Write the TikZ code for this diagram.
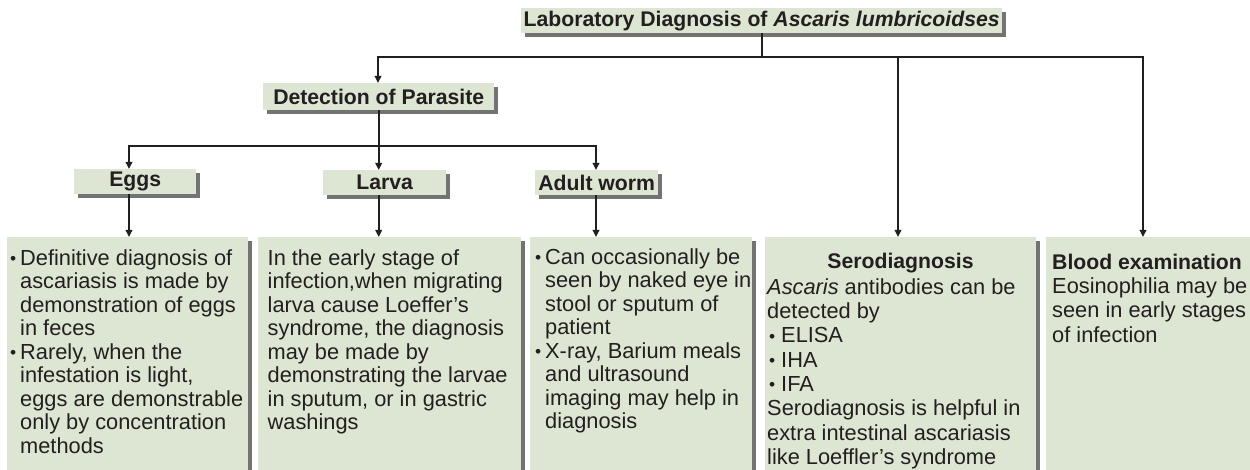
\documentclass[tikz,border=0pt]{standalone}
\usepackage{fontspec}
\usepackage{graphicx}
\setmainfont{Liberation Sans}
\usetikzlibrary{arrows.meta,shadows}
\definecolor{boxfill}{RGB}{221,229,211}
\definecolor{shade}{RGB}{115,115,115}
\definecolor{ink}{RGB}{35,31,32}
\newcommand\bu{\makebox[10.5pt][l]{\hspace{0.5pt}\raisebox{0.8pt}{\scalebox{0.8}{•}}}}
\newcommand\bus{\makebox[14pt][l]{\hspace{2pt}\raisebox{0.8pt}{\scalebox{0.8}{•}}}}
\newcommand\ii{\hspace*{10.5pt}}
\newcommand\fst{\rule{0pt}{16.5pt}}
\tikzset{
  conn/.style={draw=ink, line width=1.8pt},
  arr/.style={conn, -{Triangle[length=7pt,width=6.5pt]}},
  lbl/.style={fill=boxfill, draw=none, inner sep=0pt, anchor=north west,
    text=ink, font=\bfseries\fontsize{21.2}{24}\selectfont,
    copy shadow={shadow xshift=4pt, shadow yshift=-4pt, fill=shade, draw=none}},
  bigbox/.style={fill=boxfill, draw=none, inner sep=0pt, anchor=north west,
    copy shadow={shadow xshift=4pt, shadow yshift=-4pt, fill=shade, draw=none}},
  body/.style={inner sep=0pt, anchor=north west, align=left, text=ink,
    font=\fontsize{21.8}{23.5}\selectfont},
  bodyw/.style={body, font=\fontsize{21.8}{24.3}\selectfont},
}
\begin{document}
\begin{tikzpicture}[x=1pt,y=-1pt]
\useasboundingbox (0,0) rectangle (1250,470);
\fill[white] (0,0) rectangle (1250,470);

% label boxes
\node[lbl, minimum width=481pt, minimum height=25pt] (title) at (521,8)
  {Laboratory Diagnosis of \textit{Ascaris lumbricoidses}};
\node[lbl, minimum width=231pt, minimum height=27pt] (detect) at (263,83)
  {Detection of Parasite};
\node[lbl, minimum width=122pt, minimum height=25pt] (eggs) at (74,169) {Eggs};
\node[lbl, minimum width=123pt, minimum height=25pt] (larva) at (323,170) {Larva};
\node[lbl, minimum width=123pt, minimum height=25pt] (adult) at (535,170) {Adult worm};

% content boxes
\node[bigbox, minimum width=241pt, minimum height=236pt] (eggsT) at (7,237) {};
\node[bigbox, minimum width=263pt, minimum height=236pt] (larvaT) at (258,237) {};
\node[bigbox, minimum width=222pt, minimum height=236pt] (adultT) at (530,237) {};
\node[bigbox, minimum width=271pt, minimum height=236pt] (sero) at (765,237) {};
\node[bigbox, minimum width=206pt, minimum height=236pt] (blood) at (1046,237) {};

% texts
\node[body] (eggsTx) at (9.5,248.5) {\fst\bu Definitive diagnosis of\\
\ii ascariasis is made by\\
\ii demonstration of eggs\\
\ii in feces\\
\bu Rarely, when the\\
\ii infestation is light,\\
\ii eggs are demonstrable\\
\ii only by concentration\\
\ii methods};

\node[body] (larvaTx) at (267.5,248.5) {\fst In the early stage of\\
infection,when migrating\\
larva cause Loeffer’s\\
syndrome, the diagnosis\\
may be made by\\
demonstrating the larvae\\
in sputum, or in gastric\\
washings};

\node[body] (adultTx) at (534.5,247.5) {\fst\bu Can occasionally be\\
\ii seen by naked eye in\\
\ii stool or sputum of\\
\ii patient\\
\bu X-ray, Barium meals\\
\ii and ultrasound\\
\ii imaging may help in\\
\ii diagnosis};

\node[anchor=base, inner sep=0pt, text=ink, font=\bfseries\fontsize{21.2}{24}\selectfont]
  (seroH) at (900.5,269) {Serodiagnosis};
\node[bodyw] (seroTx) at (767,277.5) {\fst\textit{Ascaris} antibodies can be\\
detected by\\
\bus ELISA\\
\bus IHA\\
\bus IFA\\
Serodiagnosis is helpful in\\
extra intestinal ascariasis\\
like Loeffler’s syndrome};

\node[bodyw] (bloodTx) at (1052,252.5) {\fst\textbf{\fontsize{21.2}{24.3}\selectfont Blood examination}\\
Eosinophilia may be\\
seen in early stages\\
of infection};

% connectors
\coordinate (b1L) at (378,57);
\coordinate (b1S) at (898,57);
\coordinate (b1R) at (1143,57);
\coordinate (b2L) at (129,146);
\coordinate (b2R) at (596,146);

\draw[conn] (title.south) -- (title.south |- b1L);
\draw[arr] (title.south |- b1L) -- (b1L) -- (b1L |- detect.north);
\draw[arr] (title.south |- b1L) -- (b1R) -- (b1R |- blood.north);
\draw[arr] (b1S) -- (b1S |- sero.north);

\draw[conn] (detect.south) -- (detect.south |- b2L);
\draw[arr] (detect.south |- b2L) -- (b2L) -- (b2L |- eggs.north);
\draw[arr] (detect.south |- b2L) -- (b2R) -- (b2R |- adult.north);
\draw[arr] (detect.south |- b2L) -- (detect.south |- larva.north);

\draw[arr] (b2L |- eggs.south) -- (b2L |- eggsT.north);
\draw[arr] (detect.south |- larva.south) -- (detect.south |- larvaT.north);
\draw[arr] (b2R |- adult.south) -- (b2R |- adultT.north);
\end{tikzpicture}
\end{document}
